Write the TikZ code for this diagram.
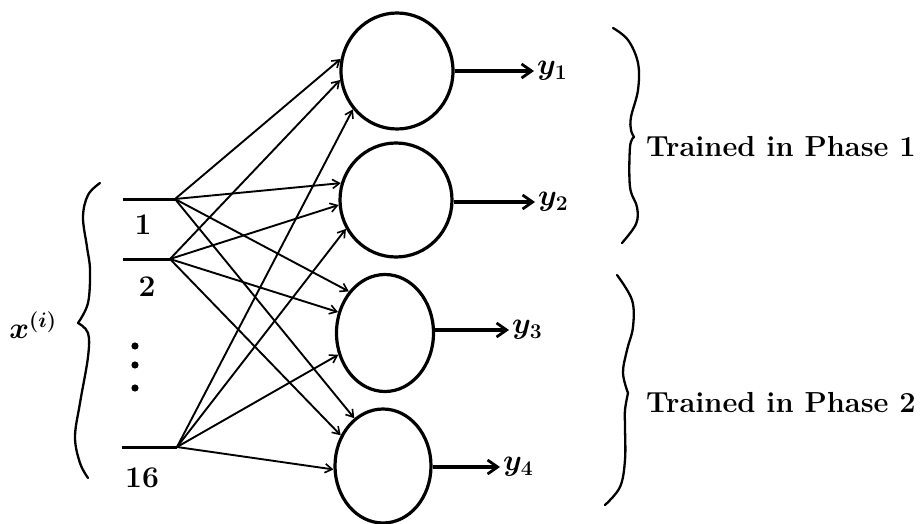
\RequirePackage{fix-cm}
\documentclass[tikz,border=0pt]{standalone}
\usetikzlibrary{arrows.meta,shapes.geometric}
\begin{document}
\begin{tikzpicture}[x=1pt,y=1pt,
  font=\fontsize{30}{36}\selectfont\bfseries\boldmath,
  neuron/.style n args={2}{ellipse, draw, line width=3.2pt, inner sep=0pt,
    minimum width=#1, minimum height=#2},
  inline/.style={line width=3pt},
  conn/.style={line width=1.9pt, -{Straight Barb[length=7pt,width=9pt,line width=1.6pt]}},
  outarrow/.style={line width=3.6pt, -{Straight Barb[length=10pt,width=14pt,line width=2.8pt]}},
  lbl/.style={inner sep=0pt},
  phase/.style={inner sep=0pt, anchor=base west, font=\fontsize{29}{35}\selectfont\bfseries},
  bracestyle/.style={line width=2.3pt, line cap=round, line join=round}
]
\useasboundingbox (0,0) rectangle (924,-524);

% neurons
\node[neuron={112pt}{116pt}] (n1) at (397,-71) {};
\node[neuron={112pt}{114pt}] (n2) at (396,-200) {};
\node[neuron={97pt}{117pt}] (n3) at (385,-333) {};
\node[neuron={96pt}{114pt}] (n4) at (383,-466) {};

% inputs
\coordinate (i1s) at (123,-199); \coordinate (i1) at (175,-199);
\coordinate (i2s) at (123,-259); \coordinate (i2) at (170,-259);
\coordinate (i16s) at (122,-447); \coordinate (i16) at (177,-447);
\draw[inline] (i1s) -- (i1);
\draw[inline] (i2s) -- (i2);
\draw[inline] (i16s) -- (i16);

\node[lbl] (l1) at (143,-225) {1};
\node[lbl] (l2) at (147,-287) {2};
\node[lbl] (l16) at (142,-478) {16};
\fill (135,-346) circle (3.6);
\fill (135,-365) circle (3.6);
\fill (135,-388) circle (3.6);

% connections
\draw[conn] (i1) -- (n1.168);
\draw[conn] (i1) -- (n2.163);
\draw[conn] (i1) -- (n3.131);
\draw[conn] (i1) -- (n4.121);
\draw[conn] (i2) -- (n1.189);
\draw[conn] (i2) -- (n2.185);
\draw[conn] (i2) -- (n3.156);
\draw[conn] (i2) -- (n4.144);
\draw[conn] (i16) -- (n1.221);
\draw[conn] (i16) -- (n2.210);
\draw[conn] (i16) -- (n3.205);
\draw[conn] (i16) -- (n4.184);

% outputs
\node[lbl, anchor=west] (y1) at (537,-71) {$y_1$};
\node[lbl, anchor=west] (y2) at (538,-202) {$y_2$};
\node[lbl, anchor=west] (y3) at (512,-330) {$y_3$};
\node[lbl, anchor=west] (y4) at (503,-467) {$y_4$};
\draw[outarrow] (n1.east) -- ([xshift=-3pt]y1.west);
\draw[outarrow] (n2.east |- y2.west) -- ([xshift=-3pt]y2.west);
\draw[outarrow] (n3.east |- y3.west) -- ([xshift=-3pt]y3.west);
\draw[outarrow] (n4.east |- y4.west) -- ([xshift=-3pt]y4.west);

% left brace
\draw[bracestyle] plot[smooth, tension=0.6] coordinates
  {(100,-183) (88,-195) (83,-217) (87,-247) (90,-270) (88,-303) (78,-323)};
\draw[bracestyle] plot[smooth, tension=0.6] coordinates
  {(78,-323) (88,-333) (88,-357) (80,-403) (75,-437) (80,-463) (88,-478)};
\node[lbl] (xi) at (33,-325) {$x^{(i)}$};

% right brace 1
\draw[bracestyle] plot[smooth, tension=0.6] coordinates
  {(613,-28) (628,-40) (638,-63) (638,-90) (631,-117) (631,-130) (634,-137)};
\draw[bracestyle] plot[smooth, tension=0.6] coordinates
  {(634,-137) (630,-147) (630,-187) (637,-207) (636,-224) (622,-243)};

% right brace 2
\draw[bracestyle] plot[smooth, tension=0.6] coordinates
  {(617,-275) (632,-300) (633,-327) (627,-350) (623,-373) (628,-393)};
\draw[bracestyle] plot[smooth, tension=0.6] coordinates
  {(628,-393) (625,-410) (625,-427) (625,-460) (620,-487) (605,-505)};

\node[phase] (p1) at (646,-157) {Trained in Phase 1};
\node[phase] (p2) at (646,-412) {Trained in Phase 2};
\end{tikzpicture}
\end{document}
